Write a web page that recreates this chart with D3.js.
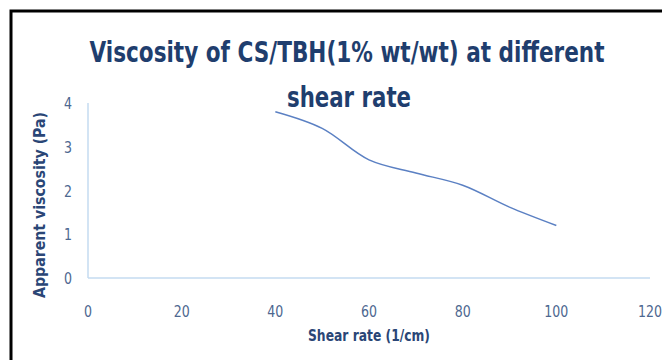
<!DOCTYPE html>
<html>
<head>
<meta charset="utf-8">
<script src="https://cdn.jsdelivr.net/npm/d3@7"></script>
<style>
  body { margin: 0; background: #fff; }
  svg { display: block; }
</style>
</head>
<body>
<script>
const shearRate = [40, 50, 60, 70, 80, 90, 100];
const viscosity = [3.8, 3.42, 2.7, 2.4, 2.12, 1.62, 1.2];
const xTicks = [0, 20, 40, 60, 80, 100, 120];
const yTicks = [0, 1, 2, 3, 4];
const titleLines = ['Viscosity of CS/TBH(1% wt/wt) at different', 'shear rate'];

const W = 662, H = 360;
const PLOT = { left: 88, right: 650, top: 103, bottom: 278 };
const FONT = '"DejaVu Sans Condensed", "DejaVu Sans", sans-serif';

const svg = d3.select('body').append('svg').attr('width', W).attr('height', H);

// frame (only left/top visible in the crop)
svg.append('rect')
  .attr('x', 11).attr('y', 11)
  .attr('width', W + 20).attr('height', H + 20)
  .attr('fill', 'none').attr('stroke', '#000').attr('stroke-width', 3);

const x = d3.scaleLinear().domain([0, 120]).range([PLOT.left, PLOT.right]);
const y = d3.scaleLinear().domain([0, 4]).range([PLOT.bottom, PLOT.top]);

// axes lines
svg.append('line')
  .attr('x1', x(0)).attr('x2', x(120)).attr('y1', y(0)).attr('y2', y(0))
  .attr('stroke', '#c5dbf1').attr('stroke-width', 1.5);
svg.append('line')
  .attr('x1', x(0)).attr('x2', x(0)).attr('y1', y(0)).attr('y2', y(4))
  .attr('stroke', '#c5dbf1').attr('stroke-width', 1.5);

// squeeze a text to a given width (mimics the condensed original font)
function fit(sel, w) {
  sel.attr('textLength', w).attr('lengthAdjust', 'spacingAndGlyphs');
}

// tick labels
svg.selectAll('text.xt').data(xTicks).join('text')
  .attr('class', 'xt')
  .attr('x', (d) => x(d)).attr('y', 317)
  .attr('text-anchor', 'middle')
  .attr('font-family', FONT).attr('font-size', 16)
  .attr('fill', '#4d6790')
  .each(function (d) { fit(d3.select(this), String(d).length * 8); })
  .text((d) => d);

svg.selectAll('text.yt').data(yTicks).join('text')
  .attr('class', 'yt')
  .attr('x', 72).attr('y', (d) => y(d) + 6)
  .attr('text-anchor', 'end')
  .attr('font-family', FONT).attr('font-size', 16)
  .attr('fill', '#4d6790')
  .each(function () { fit(d3.select(this), 8); })
  .text((d) => d);

// axis titles
svg.append('text')
  .attr('x', 369).attr('y', 341)
  .attr('text-anchor', 'middle')
  .attr('font-family', FONT).attr('font-size', 15).attr('font-weight', 'bold')
  .attr('fill', '#2a4676')
  .call(fit, 122)
  .text('Shear rate  (1/cm)');

svg.append('text')
  .attr('transform', 'translate(45,205) rotate(-90)')
  .attr('text-anchor', 'middle')
  .attr('font-family', FONT).attr('font-size', 15).attr('font-weight', 'bold')
  .attr('fill', '#2a4676')
  .call(fit, 186)
  .text('Apparent viscosity (Pa)');

// title
const title = svg.append('text')
  .attr('text-anchor', 'middle')
  .attr('font-family', FONT).attr('font-weight', 'bold')
  .attr('font-size', 29)
  .attr('fill', '#1f3e6e');
title.append('tspan').attr('x', 347).attr('y', 62).call(fit, 515).text(titleLines[0]);
title.append('tspan').attr('x', 349).attr('y', 107).call(fit, 124).text(titleLines[1]);

// series
const line = d3.line()
  .x((d, i) => x(shearRate[i]))
  .y((d) => y(d))
  .curve(d3.curveCatmullRom.alpha(0.5));

svg.append('path')
  .datum(viscosity)
  .attr('d', line)
  .attr('fill', 'none')
  .attr('stroke', '#5b80c3')
  .attr('stroke-width', 1.5);
</script>
</body>
</html>
